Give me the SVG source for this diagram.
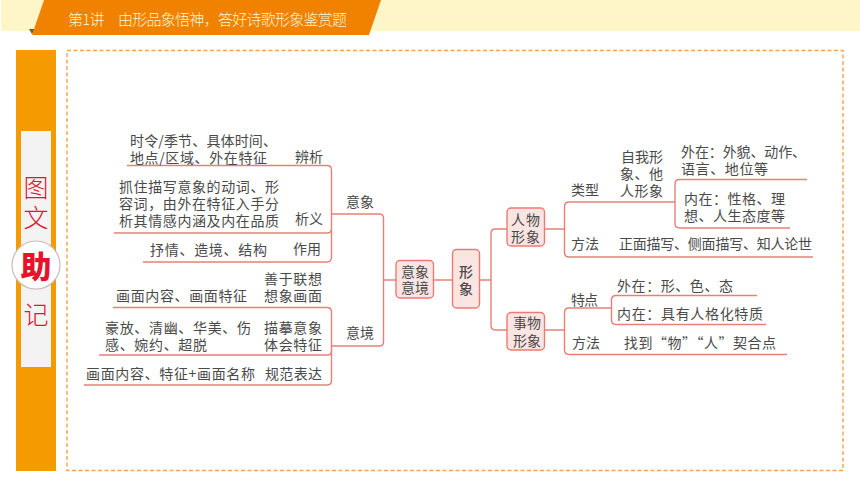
<svg xmlns="http://www.w3.org/2000/svg" width="860" height="484" viewBox="0 0 860 484">
<style>
text{font-family:"Noto Sans CJK SC","Liberation Sans",sans-serif;font-size:14px;fill:#4a4a4a;font-weight:400}
.l{fill:none;stroke:#E8807A;stroke-width:1.4}
.b{fill:#FBE5E3;stroke:#EE7B72;stroke-width:1.4}
.c{text-anchor:middle;font-size:14px}
.r{fill:#E5142B;font-size:25px;text-anchor:middle;font-weight:300}
.d{fill:none;stroke:#F9A24A;stroke-width:1.4;stroke-dasharray:4 2.5}
</style>
<rect width="860" height="484" fill="#fff"/>
<g id="header">
<rect x="1" y="0" width="859" height="31" fill="#FEF6C8"/>
<polygon points="29,29 35,29 32,34" fill="#7A5A2A"/>
<polygon points="44,0 381,0 369,35 32,35" fill="#F08200"/>
<text x="68" y="25" textLength="279" lengthAdjust="spacing" style="font-size:15px;fill:#FDF3D0;font-weight:300">第1讲　由形品象悟神，答好诗歌形象鉴赏题</text>
</g>
<g id="side-bar">
<rect x="16" y="50" width="40" height="421" fill="#F59A00"/>
<rect x="21" y="131" width="30" height="236" fill="#F3F3F3"/>
<circle cx="36" cy="265" r="24" fill="#fff" stroke="#C9BDB5" stroke-width="1.2"/>
<text class="r" x="36" y="197">图</text>
<text class="r" x="36" y="227">文</text>
<text class="r" x="36" y="278" style="font-size:31px;font-weight:900">助</text>
<text class="r" x="36" y="324">记</text>
</g>
<rect id="frame" class="d" x="67" y="50.5" width="776" height="420"/>
<g id="connectors">
<path class="l" d="M127 165.5H327Q331.5 165.5 331.5 170V257Q331.5 262 327 262H143"/>
<path class="l" d="M114 233H327Q331.5 233 331.5 229"/>
<path class="l" d="M331.500 214H379Q383.500 214 383.500 218V342Q383.500 346 379 346H331.500"/>
<path class="l" d="M113 307.500H327Q331.500 307.500 331.500 312V380.500Q331.500 385 327 385H84"/>
<path class="l" d="M99 355H327Q331.500 355 331.500 351"/>
<path class="l" d="M383.500 280H396M433.500 280H452M479.500 280H491"/>
<path class="l" d="M507 229H495.500Q491 229 491 233.500V325.500Q491 330 495.500 330H507"/>
<path class="l" d="M544.500 229H564.500M544.500 330H564.500"/>
<path class="l" d="M675 202H569Q564.500 202 564.500 206.500V252.500Q564.500 257 569 257H813"/>
<path class="l" d="M807 179.500H679.500Q675 179.500 675 184V223.500Q675 228 679.500 228H790"/>
<path class="l" d="M611.500 308H569Q564.500 308 564.500 312.500V350Q564.500 354.500 569 354.500H787"/>
<path class="l" d="M757 295.500H616Q611.500 295.500 611.500 300V320Q611.500 324.500 616 324.500H766"/>
</g>
<g id="n-yixiang-left">
<text x="130" y="146" textLength="147">时令/季节、具体时间、</text>
<text x="130" y="163" textLength="137">地点/区域、外在特征</text>
<text x="295" y="162" textLength="28">辨析</text>
<text x="119" y="192" textLength="160">抓住描写意象的动词、形</text>
<text x="119" y="209" textLength="160">容词，由外在特征入手分</text>
<text x="119" y="226" textLength="160">析其情感内涵及内在品质</text>
<text x="295" y="224" textLength="28">析义</text>
<text x="150" y="255" textLength="117">抒情、造境、结构</text>
<text x="293" y="254" textLength="28">作用</text>
</g>
<g id="n-yijing-left">
<text x="264" y="284" textLength="58">善于联想</text>
<text x="264" y="301" textLength="58">想象画面</text>
<text x="116" y="301" textLength="131">画面内容、画面特征</text>
<text x="105" y="333" textLength="146">豪放、清幽、华美、伤</text>
<text x="105" y="350" textLength="102">感、婉约、超脱</text>
<text x="264" y="333" textLength="58">描摹意象</text>
<text x="264" y="350" textLength="58">体会特征</text>
<text x="86" y="379" textLength="169">画面内容、特征+画面名称</text>
<text x="265" y="379" textLength="57">规范表达</text>
</g>
<g id="n-yixiang"><text x="346" y="207" textLength="28">意象</text></g>
<g id="n-yijing"><text x="346" y="338" textLength="28">意境</text></g>
<g id="n-yixiang-yijing">
<rect class="b" x="396" y="260.500" width="37.500" height="37.500" rx="4"/>
<text x="401" y="277" textLength="28">意象</text>
<text x="401" y="293" textLength="28">意境</text>
</g>
<g id="n-xingxiang">
<rect class="b" x="452.500" y="249.500" width="27" height="58.500" rx="4"/>
<text class="c" x="466" y="277" style="font-weight:500">形</text>
<text class="c" x="466" y="294" style="font-weight:500">象</text>
</g>
<g id="n-renwu">
<rect class="b" x="507" y="208" width="37.500" height="38" rx="4"/>
<text x="511" y="225" textLength="29">人物</text>
<text x="511" y="242" textLength="29">形象</text>
</g>
<g id="n-shiwu">
<rect class="b" x="507" y="312.500" width="37.500" height="37.500" rx="4"/>
<text x="513" y="328" textLength="28">事物</text>
<text x="513" y="346" textLength="28">形象</text>
</g>
<g id="n-renwu-right">
<text x="571" y="195" textLength="28">类型</text>
<text x="571" y="249" textLength="28">方法</text>
<text x="621" y="162" textLength="42">自我形</text>
<text x="620" y="179" textLength="43">象、他</text>
<text x="620" y="196" textLength="43">人形象</text>
<text x="681" y="157" textLength="125">外在：外貌、动作、</text>
<text x="681" y="174" textLength="87">语言、地位等</text>
<text x="684" y="204" textLength="101">内在：性格、理</text>
<text x="684" y="221" textLength="101">想、人生态度等</text>
<text x="619" y="249" textLength="193">正面描写、侧面描写、知人论世</text>
</g>
<g id="n-shiwu-right">
<text x="571" y="305" textLength="27">特点</text>
<text x="572" y="348" textLength="28">方法</text>
<text x="617" y="291" textLength="116">外在：形、色、态</text>
<text x="617" y="319" textLength="146">内在：具有人格化特质</text>
<text x="624" y="348" textLength="152">找到“物”“人”契合点</text>
</g>
</svg>
